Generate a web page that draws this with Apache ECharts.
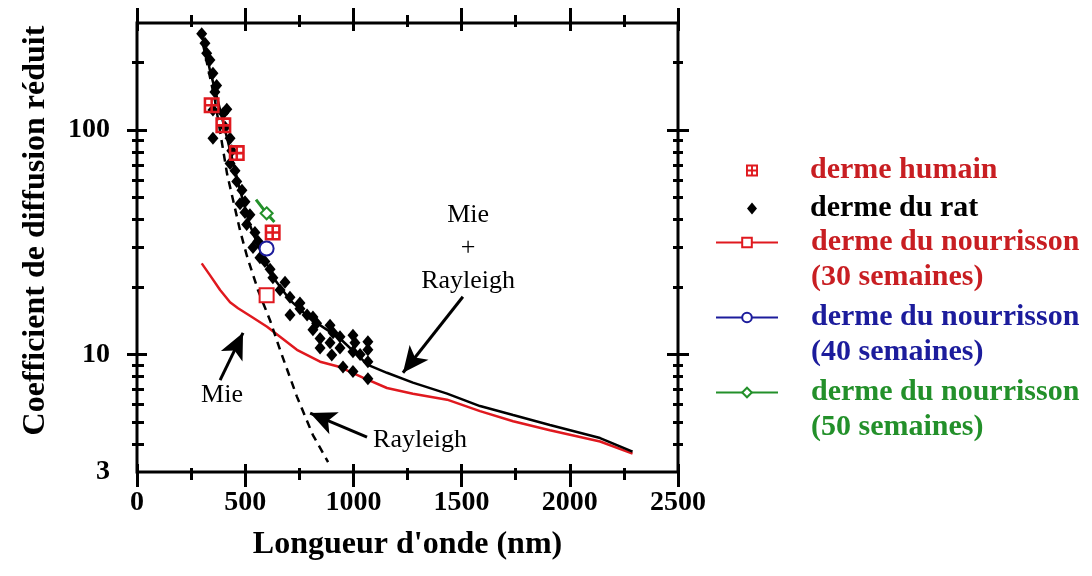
<!DOCTYPE html>
<html>
<head>
<meta charset="utf-8">
<script src="https://cdn.jsdelivr.net/npm/echarts@6/dist/echarts.min.js"></script>
<style>
  html, body { margin: 0; background: #fff; }
  #chart { width: 1092px; height: 576px; }
</style>
</head>
<body>
<div id="chart"></div>
<script>
// valeurs : [longueur d'onde (nm), coefficient]
const dermeHumain = [[345, 129], [399, 105], [461, 79], [627, 35]];
const dermeRat = [
  [299, 269], [314, 244], [322, 220], [337, 205], [351, 179], [368, 158], [360, 148],
  [415, 124], [351, 123], [399, 119], [407, 103], [351, 92], [430, 92], [438, 81],
  [430, 71], [453, 66], [461, 59], [476, 47], [499, 48], [499, 43], [485, 54],
  [507, 38], [522, 42], [545, 35], [536, 30], [559, 32], [568, 27], [591, 26],
  [615, 24], [628, 22], [661, 19.4], [684, 21], [707, 18], [753, 17], [707, 15],
  [753, 16], [786, 15], [813, 14.7], [830, 13.8], [813, 12.9], [846, 11.8], [846, 10.7],
  [892, 13.5], [906, 12.5], [892, 11.3], [938, 12], [938, 10.7], [900, 9.95], [952, 8.8],
  [998, 12.2], [1007, 11.3], [998, 10.3], [998, 8.4], [1031, 10], [1067, 11.4],
  [1067, 10.5], [1067, 9.3], [1067, 7.8]
];
const nourrisson30 = [[599, 18.4]];
const nourrisson40 = [[599, 29.7]];
const nourrisson50 = [[550, 49], [599, 42.6], [635, 39]];
const courbeMie = [
  [299, 25.5], [337, 22.6], [384, 19.4], [430, 17.1], [467, 16.1], [531, 14.7], [601, 13.3],
  [661, 12.0], [739, 10.5], [846, 9.3], [938, 8.8], [1044, 7.9], [1155, 7.1], [1275, 6.7],
  [1433, 6.3], [1585, 5.6], [1738, 5.05], [1908, 4.6], [2140, 4.1], [2290, 3.62]
];
const courbeMieRayleigh = [
  [296, 279], [337, 185], [384, 123], [430, 81.4], [476, 54], [522, 37.7], [578, 27.8],
  [638, 21.5], [707, 17.5], [799, 14.5], [938, 11.8], [1067, 9.0], [1155, 8.3], [1275, 7.5],
  [1433, 6.7], [1585, 5.9], [1738, 5.38], [1908, 4.86], [2140, 4.25], [2290, 3.7]
];
const courbeRayleigh = [
  [291, 279], [360, 136], [416, 64], [476, 35.8], [508, 27.5], [559, 19.4], [615, 14.2],
  [661, 10.5], [739, 6.5], [813, 4.38], [883, 3.32]
];

// graduations
const xTicksMajor = [0, 500, 1000, 1500, 2000, 2500];
const xTicksMinor = [250, 750, 1250, 1750, 2250];
const yLabels = [3, 10, 100];
const yTicksMajor = [10, 100];
const yTicksMinor = [4, 5, 6, 7, 8, 9, 20, 30, 40, 50, 60, 70, 80, 90, 200];

// annotations (texte + flèches), en coordonnées de données
const annotations = [[1530, 29.8, 'Mie\n+\nRayleigh'], [393, 6.6, 'Mie'], [1308, 4.16, 'Rayleigh']];
const arrows = [
  [[1506, 18.1], [1229, 8.3]],
  [[384, 7.7], [490, 12.5]],
  [[1063, 4.29], [800, 5.49]]
];

const SERIF = '"Liberation Serif", "Times New Roman", serif';
const RED = '#e0191f';
const BLUE = '#1c1c9c';
const GREEN = '#23902a';
const humainSymbol = 'path://M0,0H10V1.6H0Z M0,8.4H10V10H0Z M0,0H1.6V10H0Z M8.4,0H10V10H8.4Z M0,4.2H10V5.8H0Z M4.2,0H5.8V10H4.2Z';
const diamondIcon = 'path://M5,0L10,6L5,12L0,6Z';

const X_MIN = 0, X_MAX = 2500;
const LY_MIN = Math.log10(3), LY_MAX = Math.log10(300);

// axes auxiliaires qui ne servent qu'aux graduations (traits traversants)
function xTickAxis(position, values, len, offset, withLabels) {
  return {
    type: 'value', position, offset, min: X_MIN, max: X_MAX,
    axisLine: { show: false, onZero: false },
    axisTick: { show: true, inside: true, length: len, customValues: values,
      lineStyle: { color: '#000', width: 3 } },
    axisLabel: withLabels ? {
      show: true, customValues: values, margin: 2,
      formatter: (v) => String(v),
      fontFamily: SERIF, fontSize: 28, fontWeight: 'bold', color: '#000'
    } : { show: false },
    splitLine: { show: false }
  };
}
function yTickAxis(position, values, len, offset, withLabels) {
  return {
    type: 'value', position, offset, min: LY_MIN, max: LY_MAX,
    axisLine: { show: false, onZero: false },
    axisTick: { show: true, inside: true, length: len, customValues: values.map(Math.log10),
      lineStyle: { color: '#000', width: 3 } },
    axisLabel: withLabels ? {
      show: true, customValues: yLabels.map(Math.log10), margin: 17,
      formatter: (v) => String(Math.round(Math.pow(10, v))),
      fontFamily: SERIF, fontSize: 28, fontWeight: 'bold', color: '#000'
    } : { show: false },
    splitLine: { show: false }
  };
}

const dataX = xTickAxis('bottom', xTicksMajor, 23, 15, true);
dataX.name = "Longueur d'onde (nm)";
dataX.nameLocation = 'middle';
dataX.nameGap = 42;
dataX.nameTextStyle = { fontFamily: SERIF, fontSize: 32, fontWeight: 'bold', color: '#000' };

const myChart = echarts.init(document.getElementById('chart'), null, { renderer: 'canvas' });

const option = {
  animation: false,
  backgroundColor: '#fff',
  grid: {
    left: 137, right: 414, top: 23, bottom: 104,
    show: true, borderColor: '#000', borderWidth: 3,
    containLabel: false, outerBoundsMode: 'none'
  },
  xAxis: [
    dataX,
    xTickAxis('bottom', xTicksMinor, 12, 8, false),
    xTickAxis('top', xTicksMajor, 23, 15, false),
    xTickAxis('top', xTicksMinor, 12, 8, false)
  ],
  yAxis: [
    {
      type: 'log', logBase: 10, min: 3, max: 300, position: 'left',
      axisLine: { show: false, onZero: false },
      axisTick: { show: false },
      axisLabel: { show: false },
      splitLine: { show: false },
      name: 'Coefficient de diffusion réduit',
      nameLocation: 'middle',
      nameGap: 85,
      nameTextStyle: { fontFamily: SERIF, fontSize: 32, fontWeight: 'bold', color: '#000',
        padding: [0, 0, 0, 34] }
    },
    yTickAxis('left', yTicksMajor, 20, 10, true),
    yTickAxis('left', yTicksMinor, 12, 5, false),
    yTickAxis('right', yTicksMajor, 22, 11, false),
    yTickAxis('right', yTicksMinor, 10, 5, false)
  ],
  legend: [
    {
      orient: 'vertical', left: 746, top: 153, padding: 0,
      itemWidth: 62, itemHeight: 12, itemGap: 3,
      selectedMode: false, symbolKeepAspect: true,
      textStyle: { fontFamily: SERIF, fontSize: 30, fontWeight: 'bold', lineHeight: 35,
        padding: [0, 0, 0, 22] },
      data: [
        { name: 'derme humain', icon: humainSymbol, itemStyle: { color: RED }, textStyle: { color: '#c81e22' } },
        { name: 'derme du rat', icon: diamondIcon, itemStyle: { color: '#000' }, textStyle: { color: '#000' } }
      ]
    },
    {
      orient: 'vertical', left: 715, top: 190, padding: 0,
      itemWidth: 62, itemHeight: 12, itemGap: -30,
      selectedMode: false,
      // ligne vide en tête : l'icône reste alignée sur la première ligne du texte
      formatter: (name) => '\n' + name.replace(' (', '\n('),
      textStyle: { fontFamily: SERIF, fontSize: 30, fontWeight: 'bold', lineHeight: 35,
        padding: [0, 0, 0, 28] },
      data: [
        { name: 'derme du nourrisson (30 semaines)', textStyle: { color: '#c81e22' } },
        { name: 'derme du nourrisson (40 semaines)', textStyle: { color: BLUE } },
        { name: 'derme du nourrisson (50 semaines)', textStyle: { color: GREEN } }
      ]
    }
  ],
  series: [
    {
      name: 'Mie', type: 'line', data: courbeMie, showSymbol: false, symbol: 'none',
      lineStyle: { color: RED, width: 2.5 }, z: 2, silent: true
    },
    {
      name: 'Mie + Rayleigh', type: 'line', data: courbeMieRayleigh, showSymbol: false, symbol: 'none',
      lineStyle: { color: '#000', width: 2.5 }, z: 2, silent: true
    },
    {
      name: 'Rayleigh', type: 'line', data: courbeRayleigh, showSymbol: false, symbol: 'none',
      lineStyle: { color: '#000', width: 2.5, type: [8, 6] }, z: 2, silent: true
    },
    {
      name: 'derme du rat', type: 'scatter', data: dermeRat,
      symbol: 'diamond', symbolSize: [11, 13], itemStyle: { color: '#000', opacity: 1 }, z: 3
    },
    {
      name: 'derme humain', type: 'scatter', data: dermeHumain,
      symbol: humainSymbol, symbolSize: 16, symbolKeepAspect: true,
      itemStyle: { color: RED, opacity: 1 }, z: 4
    },
    {
      name: 'derme du nourrisson (30 semaines)', type: 'line', data: nourrisson30,
      symbol: 'emptyRect', symbolSize: 14,
      lineStyle: { color: RED, width: 2 }, itemStyle: { color: RED, borderWidth: 2 }, z: 5
    },
    {
      name: 'derme du nourrisson (40 semaines)', type: 'line', data: nourrisson40,
      symbol: 'emptyCircle', symbolSize: 14,
      lineStyle: { color: BLUE, width: 2 }, itemStyle: { color: BLUE, borderWidth: 2 }, z: 5
    },
    {
      name: 'derme du nourrisson (50 semaines)', type: 'line',
      data: nourrisson50.map((p, i) => (i === 1 ? p : { value: p, symbol: 'none' })),
      symbol: 'emptyDiamond', symbolSize: 12,
      lineStyle: { color: GREEN, width: 3 }, itemStyle: { color: GREEN, borderWidth: 2 }, z: 5
    },
    {
      name: 'annotations', type: 'scatter', data: annotations,
      symbolSize: 1, itemStyle: { color: 'rgba(0,0,0,0)', opacity: 1 }, silent: true, z: 6,
      label: {
        show: true, position: 'inside', formatter: (p) => p.data[2],
        fontFamily: SERIF, fontSize: 26, lineHeight: 33, color: '#000', opacity: 1
      },
      markLine: {
        silent: true, animation: false,
        symbol: ['none', 'arrow'], symbolSize: [18, 26],
        lineStyle: { color: '#000', width: 3, type: 'solid', opacity: 1 },
        label: { show: false },
        data: arrows.map((a) => [{ coord: a[0] }, { coord: a[1] }])
      }
    }
  ]
};

myChart.setOption(option);
</script>
</body>
</html>
